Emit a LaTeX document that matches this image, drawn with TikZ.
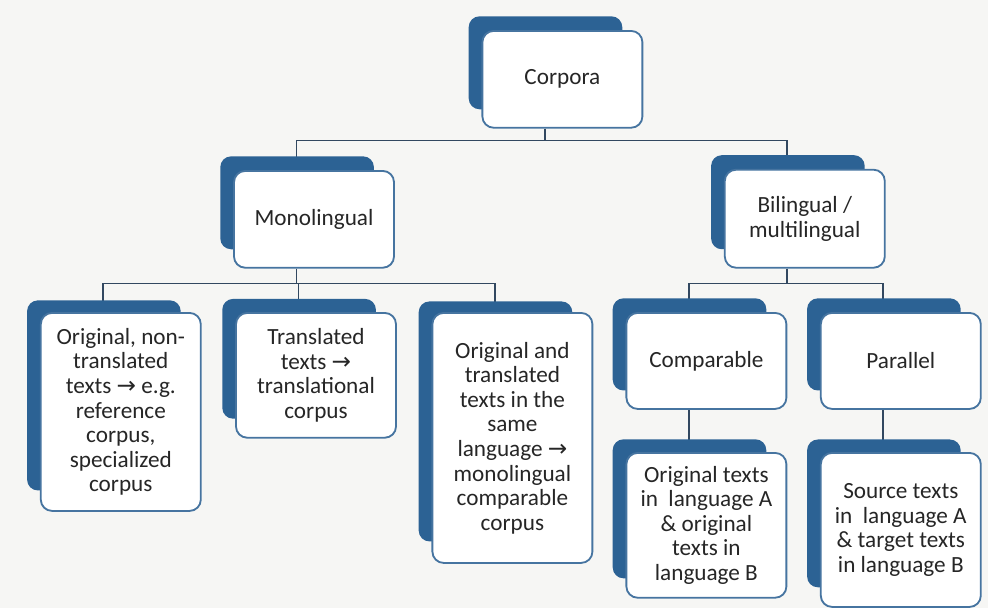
\documentclass[tikz,border=0pt]{standalone}
\usepackage{fontspec}
\setmainfont{Carlito}
\newfontfamily\arrowfont{DejaVu Sans}
\usetikzlibrary{shadows,backgrounds}
\definecolor{shadeblue}{RGB}{44,98,148}
\definecolor{edgeblue}{RGB}{70,116,160}
\definecolor{linkgray}{RGB}{50,72,96}
\definecolor{paper}{RGB}{246,246,244}
\newcommand{\toarrow}{{\arrowfont\char"2192}}
\begin{document}
\begin{tikzpicture}[
    every node/.style={font=\fontsize{16.5}{17.5}\selectfont,text=black!85},
    box/.style={draw=edgeblue,line width=1.3pt,fill=white,rounded corners=8pt,align=center,
      minimum width=4cm,anchor=north,inner sep=2pt,
      general shadow={fill=shadeblue,shadow xshift=-4.4mm,shadow yshift=4.3mm,shadow scale=0.96}},
    link/.style={draw=linkgray,line width=1.2pt}]
  \node[box,minimum height=2.42cm] (corpora) at (14.06,-0.75) {Corpora};
  \node[box,minimum height=2.42cm] (mono) at (7.85,-4.25) {Monolingual};
  \node[box,minimum height=2.45cm] (bi) at (20.12,-4.22) {Bilingual /\\multilingual};
  \node[box,minimum height=4.95cm] (orig) at (3.02,-7.8)
    {Original, non-\\translated\\texts \toarrow{} e.g.\\reference\\corpus,\\specialized\\corpus};
  \node[box,minimum height=3.12cm] (trans) at (7.9,-7.8)
    {Translated\\texts \toarrow\\translational\\corpus};
  \node[box,minimum height=6.25cm] (same) at (12.81,-7.8)
    {Original and\\translated\\texts in the\\same\\language \toarrow\\monolingual\\comparable\\corpus};
  \node[box,minimum height=2.4cm] (comp) at (17.66,-7.8) {Comparable};
  \node[box,minimum height=2.4cm] (para) at (22.52,-7.8) {Parallel};
  \node[box,minimum height=3.62cm] (origab) at (17.66,-11.3)
    {Original texts\\in\ \ language A\\\& original\\texts in\\language B};
  \node[box,minimum height=3.85cm] (source) at (22.52,-11.3)
    {Source texts\\in\ \ language A\\\& target texts\\in language B};
  \begin{scope}[on background layer]
    \fill[paper] (0,0) rectangle (24.7,-15.2);
    \draw[link] ([xshift=-4.4mm]corpora.south) -- ++(0,-0.3) -| ([xshift=-4.4mm]mono.north);
    \draw[link] ([xshift=-4.4mm]corpora.south) -- ++(0,-0.3) -| ([xshift=-4.4mm]bi.north);
    \draw[link] ([xshift=-4.4mm]mono.south) -- ++(0,-0.375) -| ([xshift=-4.4mm]orig.north);
    \draw[link] ([xshift=-4.4mm]mono.south) -- ++(0,-0.375) -| ([xshift=-4.4mm]trans.north);
    \draw[link] ([xshift=-4.4mm]mono.south) -- ++(0,-0.375) -| ([xshift=-4.4mm]same.north);
    \draw[link] ([xshift=-4.4mm]bi.south) -- ++(0,-0.375) -| ([xshift=-4.4mm]comp.north);
    \draw[link] ([xshift=-4.4mm]bi.south) -- ++(0,-0.375) -| ([xshift=-4.4mm]para.north);
    \draw[link] ([xshift=-4.4mm]comp.south) -- ([xshift=-4.4mm]origab.north);
    \draw[link] ([xshift=-4.4mm]para.south) -- ([xshift=-4.4mm]source.north);
  \end{scope}
\end{tikzpicture}
\end{document}
